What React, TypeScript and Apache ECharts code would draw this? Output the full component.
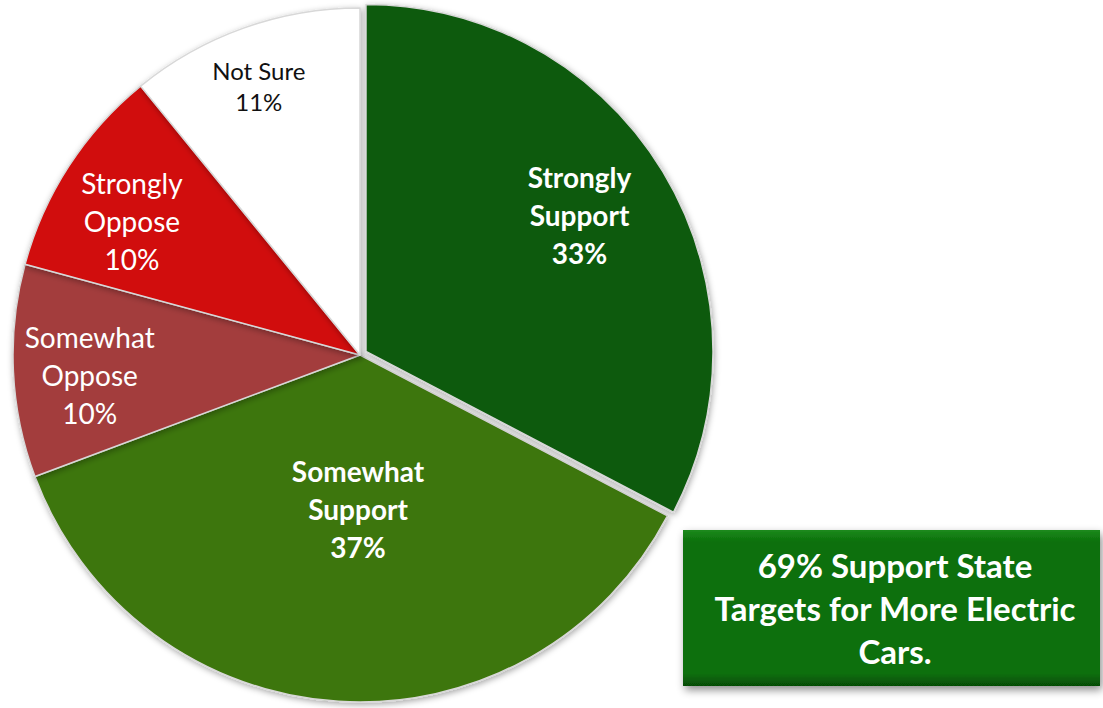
import React, { useEffect, useRef } from "react";
import * as echarts from "echarts";

const categories = ["Strongly\nSupport", "Somewhat\nSupport", "Somewhat\nOppose", "Strongly\nOppose", "Not Sure"];
const values = [33, 37, 10, 10, 11];
const sliceColors = ["#0b5a0b", "#3e760b", "#a33d3d", "#d10a0a", "#ffffff"];
const labelColors = ["#ffffff", "#ffffff", "#ffffff", "#ffffff", "#111111"];
const labelBold = [true, true, false, false, false];
const labelSizes = [28, 28, 28, 28, 24];
const labelLineHeights = [38, 38, 38, 38, 31];
const labelOffsets: [number, number][] = [[40, -43], [9, -22], [-94, 12], [-80, -38], [-42, -103]];
const calloutText = "69% Support State\nTargets for More Electric\nCars.";

export default function App() {
  const ref = useRef<HTMLDivElement>(null);
  useEffect(() => {
    if (!ref.current) return;
    const chart = echarts.init(ref.current, undefined, { renderer: "svg" });
    const font = "Lato, 'Open Sans', sans-serif";
    chart.setOption({
      animation: false,
      backgroundColor: "#ffffff",
      series: [
        {
          type: "pie",
          center: [360, 355],
          radius: [0, 347],
          startAngle: 90,
          clockwise: true,
          selectedMode: "single",
          selectedOffset: 7,
          avoidLabelOverlap: false,
          labelLine: { show: false },
          itemStyle: {
            borderColor: "#d8d8d8",
            borderWidth: 1.5,
            shadowBlur: 6,
            shadowColor: "rgba(0,0,0,0.35)",
            shadowOffsetX: 1,
            shadowOffsetY: 2,
          },
          data: categories.map((name, i) => {
            const label = {
              show: true,
              position: "inside",
              formatter: "{b}\n{c}%",
              color: labelColors[i],
              fontFamily: font,
              fontWeight: labelBold[i] ? "bold" : "normal",
              fontSize: labelSizes[i],
              lineHeight: labelLineHeights[i],
              align: "center",
              offset: labelOffsets[i],
            };
            return {
              name,
              value: values[i],
              selected: i === 0,
              itemStyle: { color: sliceColors[i] },
              label,
              select: { label: { ...label }, itemStyle: { color: sliceColors[i] } },
              emphasis: { label: { ...label } },
            };
          }),
        },
      ],
      graphic: [
        {
          type: "group",
          children: [
            {
              type: "rect",
              shape: { x: 683, y: 530, width: 417, height: 156 },
              style: {
                fill: new echarts.graphic.LinearGradient(0, 0, 0, 1, [
                  { offset: 0, color: "#1d8a1d" },
                  { offset: 0.08, color: "#0a6f0a" },
                  { offset: 0.92, color: "#0a6f0a" },
                  { offset: 1, color: "#064c06" },
                ]),
                shadowBlur: 8,
                shadowColor: "rgba(0,0,0,0.45)",
                shadowOffsetX: 2,
                shadowOffsetY: 4,
              },
            },
            {
              type: "text",
              x: 895,
              y: 608,
              style: {
                text: calloutText,
                fill: "#ffffff",
                font: "bold 33px " + font,
                lineHeight: 43,
                align: "center",
                verticalAlign: "middle",
              },
            },
          ],
        },
      ],
    });
    return () => chart.dispose();
  }, []);
  return <div ref={ref} style={{ position: "fixed", left: 0, top: 0, width: 1103, height: 708 }} />;
}
